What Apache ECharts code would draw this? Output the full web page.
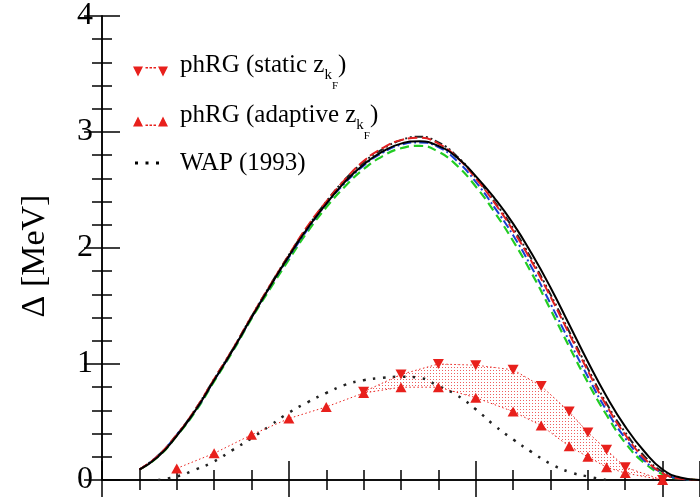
<!DOCTYPE html>
<html>
<head>
<meta charset="utf-8">
<script src="https://cdn.jsdelivr.net/npm/echarts@6/dist/echarts.min.js"></script>
<style>
  html, body { margin: 0; padding: 0; background: #fff; }
  #chart { width: 700px; height: 497px; }
</style>
</head>
<body>
<div id="chart"></div>
<script>
// k_F grid for the full gap curves
const kF = [0.10, 0.15, 0.20, 0.25, 0.30, 0.35, 0.40, 0.45, 0.50, 0.55, 0.60, 0.65, 0.70, 0.75, 0.80,
  0.85, 0.90, 0.95, 1.00, 1.05, 1.10, 1.15, 1.20, 1.25, 1.30, 1.35, 1.40, 1.45, 1.50, 1.55, 1.60];
const gapSolid = [0.09, 0.20, 0.38, 0.60, 0.86, 1.12, 1.40, 1.67, 1.93, 2.17, 2.38, 2.57, 2.72, 2.83, 2.90,
  2.92, 2.88, 2.78, 2.62, 2.43, 2.21, 1.95, 1.66, 1.34, 1.02, 0.72, 0.46, 0.25, 0.09, 0.02, 0.00];
const gapRed = [0.09, 0.21, 0.39, 0.61, 0.87, 1.13, 1.41, 1.68, 1.94, 2.19, 2.40, 2.59, 2.75, 2.86, 2.93,
  2.95, 2.90, 2.78, 2.60, 2.39, 2.15, 1.88, 1.58, 1.26, 0.94, 0.64, 0.39, 0.19, 0.06, 0.01, 0.00];
const gapGreen = [0.09, 0.20, 0.38, 0.59, 0.85, 1.11, 1.39, 1.65, 1.90, 2.14, 2.35, 2.53, 2.68, 2.79, 2.86,
  2.88, 2.83, 2.71, 2.53, 2.31, 2.06, 1.78, 1.47, 1.15, 0.84, 0.56, 0.32, 0.15, 0.05, 0.01, 0.00];
const gapBlue = [0.09, 0.21, 0.39, 0.60, 0.86, 1.12, 1.40, 1.67, 1.92, 2.16, 2.38, 2.56, 2.71, 2.82, 2.89,
  2.91, 2.87, 2.75, 2.57, 2.35, 2.11, 1.83, 1.52, 1.20, 0.89, 0.60, 0.36, 0.17, 0.06, 0.01, 0.00];
const gapDark = [0.09, 0.21, 0.39, 0.61, 0.87, 1.13, 1.41, 1.68, 1.94, 2.18, 2.40, 2.59, 2.74, 2.85, 2.93,
  2.96, 2.91, 2.79, 2.61, 2.40, 2.17, 1.90, 1.60, 1.28, 0.96, 0.66, 0.41, 0.21, 0.07, 0.01, 0.00];

// WAP (1993)
const kWap = [0.15, 0.20, 0.25, 0.30, 0.35, 0.40, 0.45, 0.50, 0.55, 0.60, 0.65, 0.70, 0.75, 0.80, 0.85,
  0.90, 0.95, 1.00, 1.05, 1.10, 1.15, 1.20, 1.25, 1.30, 1.35];
const wap = [0.00, 0.03, 0.09, 0.16, 0.26, 0.36, 0.47, 0.58, 0.67, 0.75, 0.82, 0.86, 0.88, 0.89, 0.88,
  0.81, 0.73, 0.61, 0.47, 0.35, 0.24, 0.14, 0.07, 0.03, 0.00];

// phRG points
const kAdapt = [0.20, 0.30, 0.40, 0.50, 0.60, 0.70, 0.80, 0.90, 1.00, 1.10, 1.175, 1.25, 1.30, 1.35, 1.40, 1.50];
const adapt = [0.10, 0.23, 0.39, 0.53, 0.63, 0.75, 0.80, 0.80, 0.71, 0.59, 0.47, 0.29, 0.20, 0.11, 0.06, 0.00];
const kStatic = [0.70, 0.80, 0.90, 1.00, 1.10, 1.175, 1.25, 1.30, 1.35, 1.40, 1.50];
const stat = [0.76, 0.91, 1.00, 0.99, 0.95, 0.81, 0.59, 0.41, 0.26, 0.11, 0.00];

const yTicks = [0, 1, 2, 3, 4];

const RED = '#e8201c';
const SERIF = '"Liberation Serif", "DejaVu Serif", serif';

const pair = (xs, ys) => xs.map((x, i) => [x, ys[i]]);

// band between static (upper) and adaptive (lower) over the static range
const bandUpper = pair(kStatic, stat);
const bandLower = kStatic.map(k => [k, adapt[kAdapt.indexOf(k)]]);

const dots = document.createElement('canvas');
dots.width = 3; dots.height = 3;
const dctx = dots.getContext('2d');
dctx.fillStyle = 'rgba(232,40,40,0.75)';
dctx.fillRect(1, 1, 1, 1);

const chart = echarts.init(document.getElementById('chart'));

const xBase = {
  type: 'value', min: 0, max: 1.6, interval: 0.5,
  axisLine: { lineStyle: { color: '#000', width: 1.5 } },
  axisTick: { inside: true, length: 19, lineStyle: { color: '#000', width: 1.5 } },
  minorTick: { show: true, splitNumber: 5, length: 10, lineStyle: { color: '#000', width: 1.5 } },
  axisLabel: { show: false },
  splitLine: { show: false }
};
const yBase = {
  type: 'value', min: 0, max: 4, interval: 1,
  axisLine: { show: true, lineStyle: { color: '#000', width: 1.5 } },
  axisTick: { inside: true, length: 18, lineStyle: { color: '#000', width: 1.5 } },
  minorTick: { show: true, splitNumber: 5, length: 10, lineStyle: { color: '#000', width: 1.5 } },
  splitLine: { show: false }
};

const curve = (name, data, color, type, width) => ({
  name, type: 'line', data: pair(kF, data), symbol: 'none', smooth: true,
  lineStyle: { color, type, width }, z: 3
});

const subRich = {
  k: { fontFamily: SERIF, fontSize: 15, lineHeight: 15, padding: [21, 0, 0, 0] },
  f: { fontFamily: SERIF, fontSize: 11, lineHeight: 11, padding: [43, 0, 0, 0] }
};
const legendCommon = {
  orient: 'vertical', left: 133, padding: 0, itemWidth: 35, itemHeight: 10,
  textStyle: {
    fontFamily: SERIF, fontSize: 25, color: '#000', lineHeight: 64, padding: [0, 0, 13, 7],
    rich: subRich
  }
};

chart.setOption({
  animation: false,
  grid: { left: 102, right: -4, top: 15, bottom: 17 },
  xAxis: [
    Object.assign({}, xBase, { position: 'bottom' }),
    Object.assign({}, xBase, { position: 'top' })
  ],
  yAxis: [
    Object.assign({}, yBase, {
      position: 'left',
      axisLabel: { fontFamily: SERIF, fontSize: 32, color: '#000', margin: 9,
        formatter: v => (yTicks.includes(v) ? String(v) : '') },
      name: 'Δ [MeV]', nameLocation: 'middle', nameGap: 50,
      nameTextStyle: { fontFamily: SERIF, fontSize: 34, color: '#000', padding: [0, 16, 0, 0] }
    }),
    Object.assign({}, yBase, { position: 'right', axisLabel: { show: false } })
  ],
  legend: [
    Object.assign({}, legendCommon, {
      top: 33, data: ['phRG (static)'],
      icon: 'path://M0,0 L10,0 L5,10 Z M25,0 L35,0 L30,10 Z M12.5,0.5 h2.5 v1.5 h-2.5 Z M16.5,0.5 h2.5 v1.5 h-2.5 Z M20.5,0.5 h2.5 v1.5 h-2.5 Z',
      formatter: () => 'phRG (static z{k|k}{f|F})'
    }),
    Object.assign({}, legendCommon, {
      top: 83, data: ['phRG (adaptive)'],
      icon: 'path://M0,10 L10,10 L5,0 Z M25,10 L35,10 L30,0 Z M12.5,8 h2.5 v1.5 h-2.5 Z M16.5,8 h2.5 v1.5 h-2.5 Z M20.5,8 h2.5 v1.5 h-2.5 Z',
      formatter: () => 'phRG (adaptive z{k|k}{f|F})'
    }),
    Object.assign({}, legendCommon, {
      top: 131, left: 135, data: ['WAP (1993)'],
      itemWidth: 24, itemHeight: 3,
      icon: 'path://M0,0 h3 v3 h-3 Z M10.5,0 h3 v3 h-3 Z M21,0 h3 v3 h-3 Z',
      textStyle: Object.assign({}, legendCommon.textStyle, { padding: [0, 0, 0, 16] })
    })
  ],
  series: [
    {
      name: 'band', type: 'custom', data: [bandUpper[0]], clip: true, silent: true, z: 1,
      renderItem: (params, api) => {
        const pts = bandUpper.map(p => api.coord(p))
          .concat(bandLower.slice().reverse().map(p => api.coord(p)));
        return {
          type: 'polygon',
          shape: { points: pts },
          style: { fill: { image: dots, repeat: 'repeat' }, stroke: null }
        };
      }
    },
    curve('green', gapGreen, '#22cc22', [9, 5], 2.2),
    curve('blue', gapBlue, '#1a3fd0', [9, 3, 2, 3], 2),
    curve('dark', gapDark, '#222', [8, 3, 2, 3, 2, 3], 2),
    curve('red', gapRed, '#e02020', [10, 4], 2),
    curve('solid', gapSolid, '#000', 'solid', 2),
    {
      name: 'WAP (1993)', type: 'line', data: pair(kWap, wap), symbol: 'none', smooth: true,
      color: '#000', lineStyle: { color: '#222', type: [2.5, 7.5], width: 2.5 }, z: 4
    },
    {
      name: 'phRG (adaptive)', type: 'line', data: pair(kAdapt, adapt), color: RED,
      symbol: 'triangle', symbolSize: [11, 10], itemStyle: { color: RED },
      lineStyle: { color: RED, type: [1.5, 2.5], width: 1 }, z: 5
    },
    {
      name: 'phRG (static)', type: 'line', data: pair(kStatic, stat), color: RED,
      symbol: 'triangle', symbolRotate: 180, symbolSize: [11, 10], itemStyle: { color: RED },
      lineStyle: { color: RED, type: [1.5, 2.5], width: 1 }, z: 5
    }
  ]
});
</script>
</body>
</html>
